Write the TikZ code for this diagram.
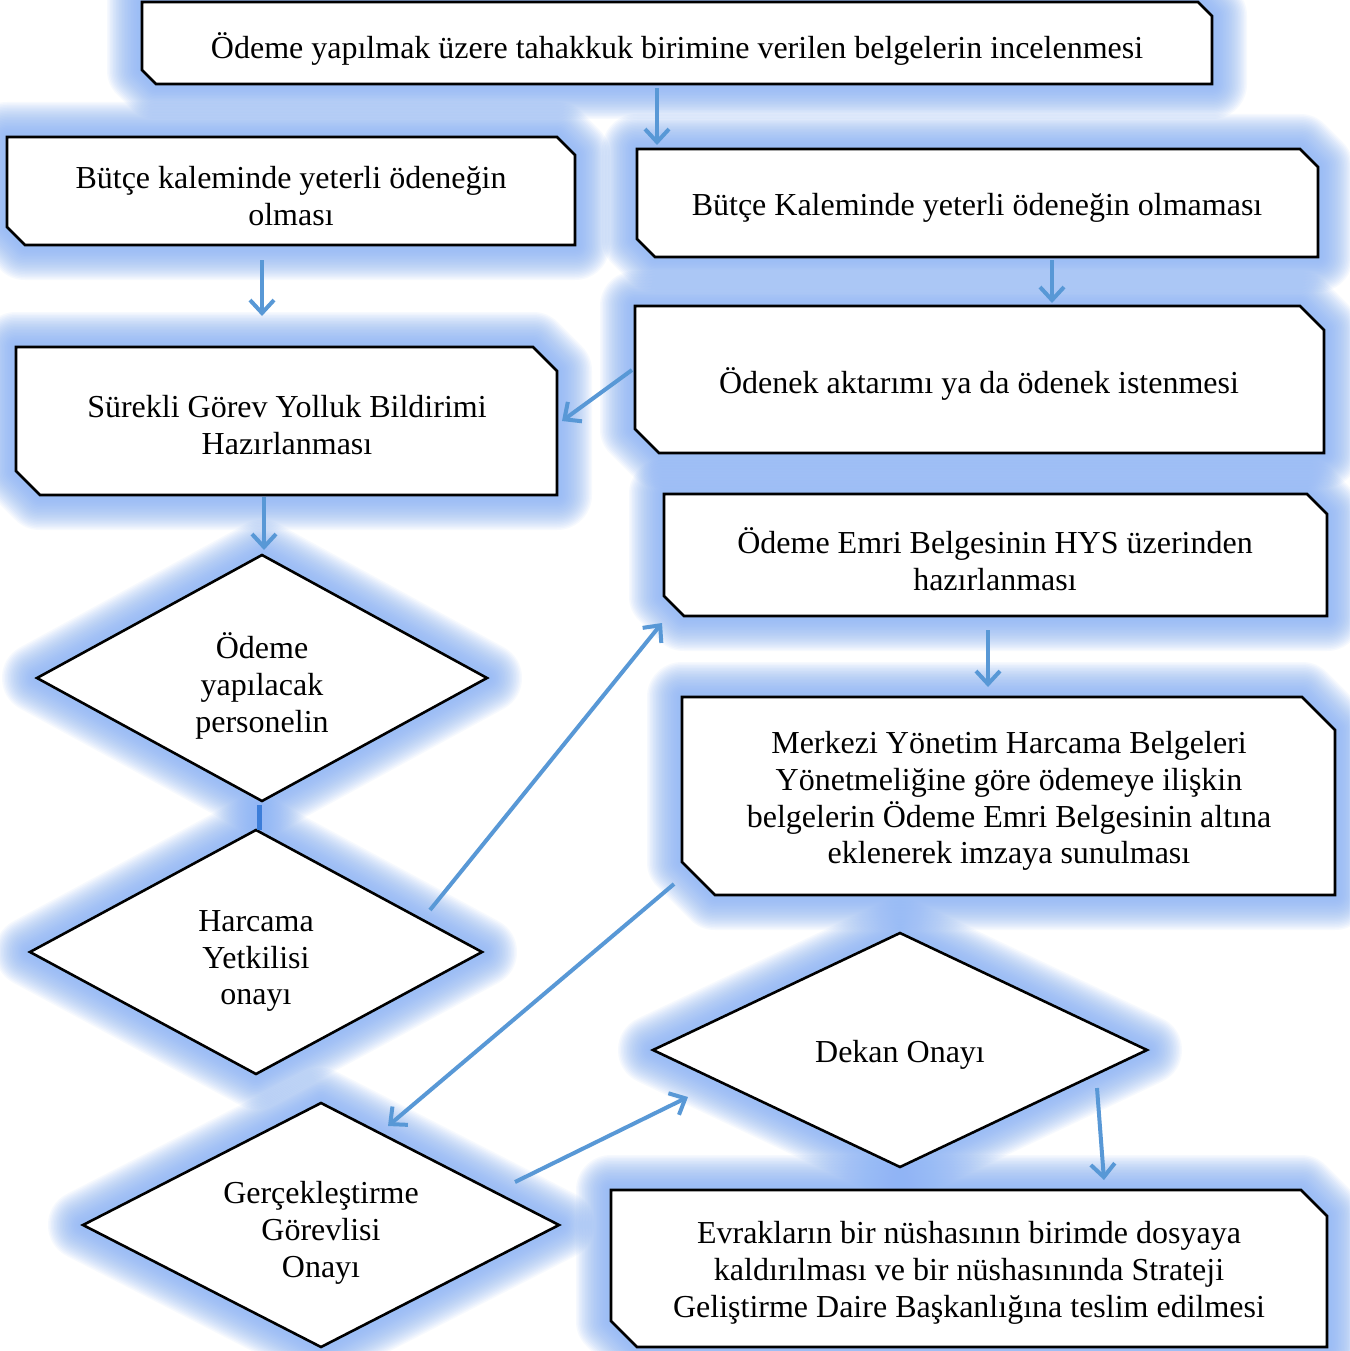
\documentclass[tikz,border=0pt]{standalone}
\usepackage{fontspec}
\setmainfont{Liberation Serif}
\usetikzlibrary{arrows.meta}
\definecolor{glowc}{RGB}{140,180,245}
\definecolor{arrc}{RGB}{88,152,214}
\definecolor{linkc}{RGB}{60,125,217}
\newcommand\snip[6]{\draw[#6] (#1,#2) -- ({#3-#5},#2) -- (#3,{#2+#5}) -- (#3,#4) -- ({#1+#5},#4) -- (#1,{#4-#5}) -- cycle;}
\newcommand\dia[5]{\draw[#5] ({#1-#3},#2) -- (#1,{#2-#4}) -- ({#1+#3},#2) -- (#1,{#2+#4}) -- cycle;}
\newcommand\allshapes[1]{%
  \snip{142}{2}{1212}{84}{14}{#1}
  \snip{7}{137}{575}{245}{18}{#1}
  \snip{637}{149}{1318}{257}{18}{#1}
  \snip{635}{306}{1324}{453}{24}{#1}
  \snip{16}{347}{557}{495}{24}{#1}
  \snip{664}{494}{1327}{616}{20}{#1}
  \snip{682}{697}{1335}{895}{33}{#1}
  \snip{611}{1190}{1327}{1347}{26}{#1}
  \dia{262}{678}{225}{123}{#1}
  \dia{256}{952}{226}{122}{#1}
  \dia{900}{1050}{247}{117}{#1}
  \dia{321}{1225}{238}{122}{#1}
}
\tikzset{
  glowline/.style={draw=glowc, opacity=0.075, line join=round},
  shapeline/.style={draw=black, fill=white, line width=2.6pt, line join=miter},
  txt/.style={align=center, inner sep=0pt, font=\fontsize{32}{36.8}\selectfont},
  arr/.style={draw=arrc, line width=4pt, -{Straight Barb[length=13pt,width=24pt]}},
}
\begin{document}
\begin{tikzpicture}[x=1pt,y=-1pt]
\useasboundingbox (0,0) rectangle (1349,1351);
\fill[white] (0,0) rectangle (1349,1351);
\foreach \w in {10,13,...,70} { \allshapes{glowline, line width=\w pt} }
\allshapes{shapeline}
% texts
\node[txt] (tA) at (677,49) {Ödeme yapılmak üzere tahakkuk birimine verilen belgelerin incelenmesi};
\node[txt] (tB) at (291,196) {Bütçe kaleminde yeterli ödeneğin\\olması};
\node[txt] (tC) at (977,208) {Bütçe Kaleminde yeterli ödeneğin olmaması};
\node[txt] (tD) at (979,384) {Ödenek aktarımı ya da ödenek istenmesi};
\node[txt] (tE) at (287,425) {Sürekli Görev Yolluk Bildirimi\\Hazırlanması};
\node[txt] (tF) at (262,686) {Ödeme\\yapılacak\\personelin};
\node[txt] (tG) at (256,961) {Harcama\\Yetkilisi\\onayı};
\node[txt] (tH) at (995,559) {Ödeme Emri Belgesinin HYS üzerinden\\hazırlanması};
\node[txt] (tI) at (1009,801) {Merkezi Yönetim Harcama Belgeleri\\Yönetmeliğine göre ödemeye ilişkin\\belgelerin Ödeme Emri Belgesinin altına\\eklenerek imzaya sunulması};
\node[txt] (tJ) at (900,1055) {Dekan Onayı};
\node[txt] (tK) at (321,1233) {Gerçekleştirme\\Görevlisi\\Onayı};
\node[txt] (tL) at (969,1273) {Evrakların bir nüshasının birimde dosyaya\\kaldırılması ve bir nüshasınında Strateji\\Geliştirme Daire Başkanlığına teslim edilmesi};
% connector end points
\coordinate (a1s) at (657,88);   \coordinate (a1e) at (657,145);
\coordinate (a2s) at (262,260);  \coordinate (a2e) at (262,316);
\coordinate (a3s) at (1052,260); \coordinate (a3e) at (1052,303);
\coordinate (a4s) at (632,370);  \coordinate (a4e) at (562,421);
\coordinate (a5s) at (264,497);  \coordinate (a5e) at (264,550);
\coordinate (lks) at (259,805);  \coordinate (lke) at (259,830);
\coordinate (a6s) at (430,910);  \coordinate (a6e) at (662,623);
\coordinate (a7s) at (988,630);  \coordinate (a7e) at (988,687);
\coordinate (a8s) at (674,884);  \coordinate (a8e) at (388,1126);
\coordinate (a9s) at (515,1182); \coordinate (a9e) at (688,1097);
\coordinate (a10s) at (1097,1088); \coordinate (a10e) at (1104,1180);
\draw[arr] (a1s) -- (a1e);
\draw[arr] (a2s) -- (a2e);
\draw[arr] (a3s) -- (a3e);
\draw[arr] (a4s) -- (a4e);
\draw[arr] (a5s) -- (a5e);
\draw[draw=linkc, line width=5pt] (lks) -- (lke);
\draw[arr] (a6s) -- (a6e);
\draw[arr] (a7s) -- (a7e);
\draw[arr] (a8s) -- (a8e);
\draw[arr] (a9s) -- (a9e);
\draw[arr] (a10s) -- (a10e);
\end{tikzpicture}
\end{document}
